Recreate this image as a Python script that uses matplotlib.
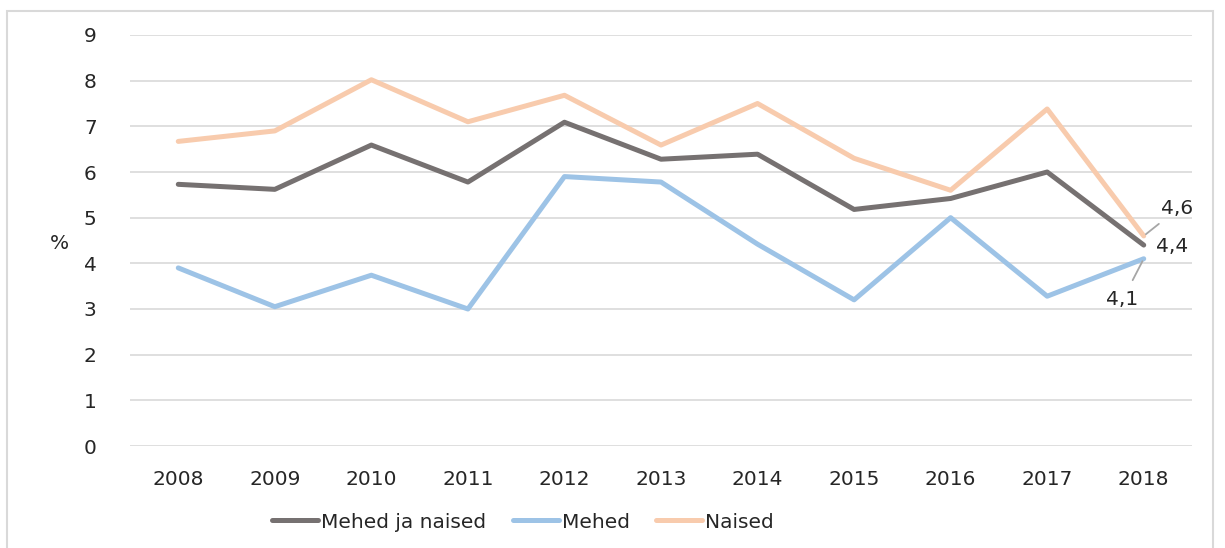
import matplotlib
matplotlib.use('Agg')
import matplotlib.pyplot as plt

plt.rcParams['font.family'] = ['DejaVu Sans']

# Data
years = [2008, 2009, 2010, 2011, 2012, 2013, 2014, 2015, 2016, 2017, 2018]
total = [5.73, 5.62, 6.59, 5.78, 7.09, 6.28, 6.39, 5.18, 5.42, 6.0, 4.4]
men = [3.9, 3.05, 3.74, 3.0, 5.9, 5.78, 4.42, 3.2, 5.0, 3.28, 4.1]
women = [6.67, 6.9, 8.02, 7.1, 7.68, 6.59, 7.5, 6.3, 5.6, 7.38, 4.6]

TXT = '#262626'
FS = 14.5

fig = plt.figure(figsize=(12.25, 5.48), dpi=100)
ax = fig.add_axes([130 / 1225, 1 - 446 / 548, 1062 / 1225, 411 / 548])

# light outer frame (bottom edge runs off the image, as in the original)
frame = plt.Rectangle((7 / 1225, -0.02), 1206 / 1225, 1.0, transform=fig.transFigure,
                      fill=False, edgecolor='#d9d9d9', linewidth=1.5)
fig.patches.append(frame)

x = range(len(years))
ax.plot(x, total, color='#767171', lw=3.6, label='Mehed ja naised', solid_capstyle='round', zorder=3)
ax.plot(x, men, color='#9dc3e6', lw=3.6, label='Mehed', solid_capstyle='round', zorder=3)
ax.plot(x, women, color='#f8cbad', lw=3.6, label='Naised', solid_capstyle='round', zorder=2)

ax.set_xlim(-0.5, len(years) - 0.5)
ax.set_ylim(0, 9)
ax.set_yticks(range(10))
ax.set_xticks(list(x))
ax.set_xticklabels([str(y) for y in years])
ax.grid(axis='y', color='#d9d9d9', lw=1.2)
ax.set_axisbelow(True)
for s in ax.spines.values():
    s.set_visible(False)
ax.tick_params(length=0, labelsize=FS, labelcolor=TXT)
ax.tick_params(axis='y', pad=24)
ax.tick_params(axis='x', pad=17)

ax.set_ylabel('%', rotation=0, fontsize=FS, color=TXT)
ax.yaxis.set_label_coords(-0.066, 0.47)

# last-point labels
last = len(years) - 1
ax.annotate('4,6', xy=(last, women[-1]), xytext=(last + 0.35, 5.19), fontsize=FS,
            color=TXT, ha='center', va='center',
            arrowprops=dict(arrowstyle='-', color='#a6a6a6', lw=1.3, shrinkA=3, shrinkB=2))
ax.text(last + 0.29, 4.36, '4,4', fontsize=FS, color=TXT, ha='center', va='center')
ax.annotate('4,1', xy=(last, men[-1]), xytext=(last - 0.22, 3.2), fontsize=FS,
            color=TXT, ha='center', va='center',
            arrowprops=dict(arrowstyle='-', color='#a6a6a6', lw=1.3, shrinkA=6, shrinkB=2))

leg = fig.legend(loc='center', bbox_to_anchor=(523 / 1225, 1 - 522 / 548), ncol=3, frameon=False,
                 fontsize=FS, handlelength=2.3, handletextpad=0.15, columnspacing=1.3)
for t in leg.get_texts():
    t.set_color(TXT)

fig.savefig('out.png', dpi=100)
